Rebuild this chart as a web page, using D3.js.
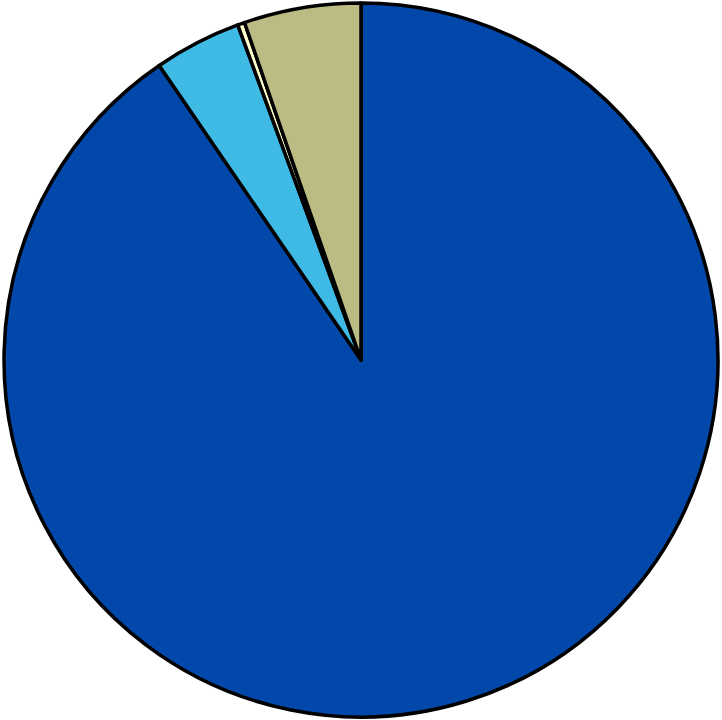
<!DOCTYPE html>
<html>
<head>
<meta charset="utf-8">
<script src="https://cdn.jsdelivr.net/npm/d3@7"></script>
<style>
  html, body { margin: 0; padding: 0; background: #fff; }
</style>
</head>
<body>
<div id="chart"></div>
<script>
// slice values (percent), clockwise from 12 o'clock
var categories = ["A", "B", "C", "D"];
var values = [90.44, 3.95, 0.32, 5.29];
var colors = ["#0148aa", "#3ebae5", "#ffffcc", "#bbbc83"];

var WIDTH = 722, HEIGHT = 720;
var cx = 361, cy = 360, radius = 357;

var svg = d3.select("#chart").append("svg")
    .attr("width", WIDTH)
    .attr("height", HEIGHT);

var pie = d3.pie().sort(null).value(function(d) { return d; });
var arc = d3.arc().innerRadius(0).outerRadius(radius);

var g = svg.append("g").attr("transform", "translate(" + cx + "," + cy + ")");

g.selectAll("path")
    .data(pie(values))
    .enter()
    .append("path")
    .attr("d", arc)
    .attr("fill", function(d, i) { return colors[i]; })
    .attr("stroke", "#000")
    .attr("stroke-width", 3.5)
    .attr("stroke-linejoin", "round");
</script>
</body>
</html>
